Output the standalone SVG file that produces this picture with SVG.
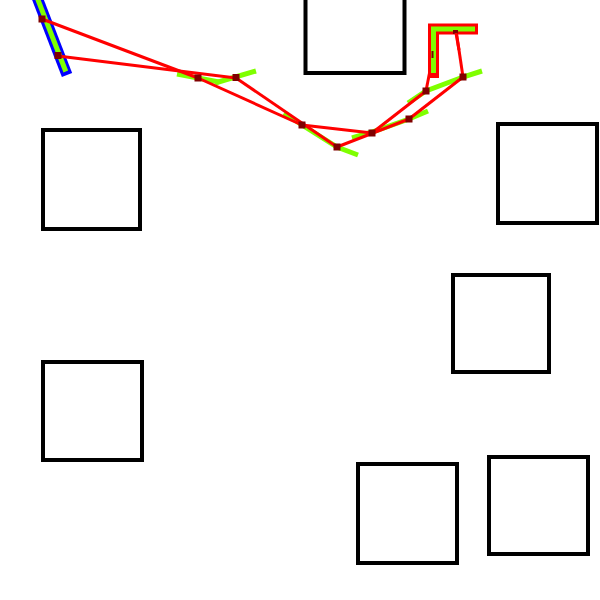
<svg xmlns="http://www.w3.org/2000/svg" width="600" height="600" viewBox="0 0 600 600">
<style>
.obs{fill:none;stroke:#000;stroke-width:4}
.rod{fill:none;stroke:#7fff00;stroke-width:5;stroke-linecap:butt}
.edge{stroke:#ff0000;stroke-width:3;fill:none}
.joint{fill:#800000}
</style>
<rect width="600" height="600" fill="#fff"/>
<g id="obstacles">
<rect id="obs-top" class="obs" x="305.5" y="-26" width="99" height="99"/>
<rect id="obs-left1" class="obs" x="43" y="130" width="97" height="99"/>
<rect id="obs-right1" class="obs" x="498" y="124" width="99" height="99"/>
<rect id="obs-right2" class="obs" x="453" y="275" width="96" height="97"/>
<rect id="obs-left2" class="obs" x="43" y="362" width="99" height="98"/>
<rect id="obs-bottom1" class="obs" x="358" y="464" width="99" height="99"/>
<rect id="obs-bottom2" class="obs" x="489" y="457" width="99" height="97"/>
</g>
<g id="pose-start">
<line x1="36.5" y1="-4" x2="67" y2="75" stroke="#0000ff" stroke-width="11"/>
<line x1="36.5" y1="-4" x2="65.8" y2="71.5" class="rod"/>
</g>
<g id="pose-b">
<line class="rod" x1="177" y1="74" x2="219" y2="82"/>
<line class="rod" x1="215" y1="83" x2="256" y2="71"/>
</g>
<g id="pose-c">
<polyline class="rod" points="284,113 302,125 337,147 358,155"/>
</g>
<g id="pose-d">
<polyline class="rod" points="352,138 372,132 409,119 428,111"/>
</g>
<g id="pose-e">
<polyline class="rod" points="408,103 426,91 463,77 482,71"/>
</g>
<g id="connectors">
<line class="edge" x1="42" y1="19" x2="198" y2="78"/>
<line class="edge" x1="58" y1="56" x2="236" y2="78"/>
<line class="edge" x1="198" y1="78" x2="302" y2="125"/>
<line class="edge" x1="236" y1="78" x2="337" y2="147"/>
<line class="edge" x1="302" y1="125" x2="372" y2="133"/>
<line class="edge" x1="337" y1="147" x2="409" y2="119"/>
<line class="edge" x1="372" y1="133" x2="426" y2="91"/>
<line class="edge" x1="409" y1="119" x2="463" y2="77"/>
<line class="edge" x1="426" y1="91" x2="433" y2="55"/>
<line class="edge" x1="463" y1="77" x2="456" y2="30"/>
</g>
<g id="joints">
<rect class="joint" x="38.5" y="15.5" width="7" height="7"/>
<rect class="joint" x="54.5" y="52" width="7" height="7"/>
<rect class="joint" x="194.5" y="74.5" width="7" height="7"/>
<rect class="joint" x="232.5" y="74" width="7" height="7"/>
<rect class="joint" x="298.5" y="121.5" width="7" height="7"/>
<rect class="joint" x="333.5" y="143.5" width="7" height="7"/>
<rect class="joint" x="368.5" y="129.5" width="7" height="7"/>
<rect class="joint" x="405.5" y="115.5" width="7" height="7"/>
<rect class="joint" x="422.5" y="87.5" width="7" height="7"/>
<rect class="joint" x="459.5" y="73.5" width="7" height="7"/>
</g>
<g id="pose-goal">
<polyline points="433.5,78 433.5,29 478,29" fill="none" stroke="#ff0000" stroke-width="11" stroke-linejoin="miter"/>
<polyline class="rod" points="433.5,73 433.5,29 475,29"/>
<rect class="joint" x="431.5" y="51" width="2" height="7"/>
<rect class="joint" x="453" y="30" width="5" height="4"/>
<line class="edge" x1="459" y1="50" x2="456" y2="33"/>
</g>
</svg>
